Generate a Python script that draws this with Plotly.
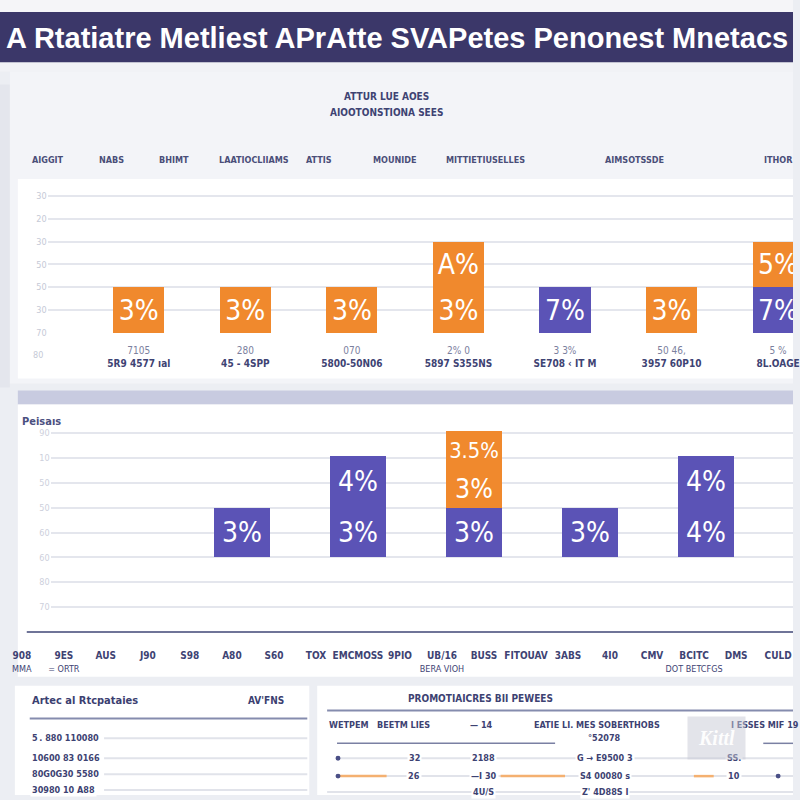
import plotly.graph_objects as go

# ---------------- data ----------------
title_text = "A Rtatiatre Metliest APrAtte SVAPetes Penonest Mnetacs"
sub_title_1 = "ATTUR LUE AOES"
sub_title_2 = "AIOOTONSTIONA SEES"
col_heads = ["AIGGIT", "NABS", "BHIMT", "LAATIOCLIIAMS", "ATTIS", "MOUNIDE",
             "MITTIETIUSELLES", "AIMSOTSSDE", "ITHOR"]
col_head_x = [48, 112, 176, 256, 322, 398, 490, 640, 785]

c1_line1 = ["7105", "280", "070", "2% 0", "3 3%", "50 46,", "5 %"]
c1_line2 = ["5R9 4577 ıal", "45 - 4SPP", "5800-50N06", "5897 S355NS",
            "SE708 ‹ IT M", "3957 60P10", "8L.OAGE"]
c1_bottom_vals = [2, 2, 2, 2, 2, 2, 2]
c1_bottom_kind = ["o", "o", "o", "o", "p", "o", "p"]
c1_bottom_text = ["3%", "3%", "3%", "3%", "7%", "3%", "7%"]
c1_top_vals = [None, None, None, 2, None, None, 2]
c1_top_text = ["", "", "", "A%", "", "", "5%"]
c1_ytick_vals = [0, 1, 2, 3, 4, 5, 6]
c1_ytick_text = ["70", "30", "50", "50", "30", "20", "30"]

c2_title = "Peisaıs"
c2_cats = ["B1", "B2", "B3", "B4", "B5"]
c2_bottom_vals = [2, 2, 2, 2, 2]
c2_bottom_text = ["3%", "3%", "3%", "3%", "4%"]
c2_mid_vals = [None, 2.1, 1.5, None, 2.1]
c2_mid_kind = ["p", "p", "o", "p", "p"]
c2_mid_text = ["", "4%", "3%", "", "4%"]
c2_top_vals = [None, None, 1.6, None, None]
c2_top_text = ["", "", "3.5%", "", ""]
c2_ytick_vals = [-2, -1, 0, 1, 2, 3, 4, 5]
c2_ytick_text = ["70", "80", "60", "60", "50", "50", "10", "90"]
c2_axis_line1 = ["908", "9ES", "AUS", "J90", "S98", "A80", "S60", "TOX", "EMCMOSS",
                 "9PIO", "UB/16", "BUSS", "FITOUAV", "3ABS", "4I0", "CMV", "BCITC",
                 "DMS", "CULD"]
c2_axis_line2 = ["MMA", "= ORTR", "", "", "", "", "", "", "", "", "BERA VIOH",
                 "", "", "", "", "", "DOT BETCFGS", "", ""]

left_title = "Artec al Rtcpataies"
left_title_right = "AV'FNS"
left_rows = ["5\u2009. 880 110080", "10600 83 0166", "80G0G30 5580", "30980 10 A88"]
right_title = "PROMOTIAICRES BII PEWEES"
right_heads = ["WETPEM   BEETM LIES", "— 14", "EATIE LI. MES SOBERTHOBS", "I ESSES MIF 19"]
right_row1 = ["32", "2188", "G → E9500 3", "SS."]
right_row2 = ["26", "—I 30", "S4 00080 s", "10"]
right_row3 = ["", "4U/S", "Z' 4D88S I", ""]

ORANGE = "#f0892d"
PURPLE = "#5b53b6"
NAVY = "#3b3769"
TXT = "#3e4373"
col = {"o": ORANGE, "p": PURPLE}


def X(px):
    return px / 800.0


def Y(px):
    return 1 - px / 800.0


NARROW = "Liberation Sans Narrow, DejaVu Sans Condensed, Roboto Condensed, Roboto, sans-serif"
BAR_FONT = dict(family=NARROW, size=28, color="white")
SMALL = NARROW

fig = go.Figure()

# chart 1
fig.add_trace(go.Bar(
    x=c1_line2, y=c1_bottom_vals, marker=dict(color=[col[k] for k in c1_bottom_kind], line=dict(width=0)),
    text=c1_bottom_text, textposition="inside", insidetextanchor="middle", textangle=0,
    textfont=BAR_FONT, xaxis="x", yaxis="y", showlegend=False, hoverinfo="skip"))
fig.add_trace(go.Bar(
    x=c1_line2, y=c1_top_vals, marker=dict(color=ORANGE, line=dict(width=0)),
    text=c1_top_text, textposition="inside", insidetextanchor="middle", textangle=0,
    textfont=BAR_FONT, xaxis="x", yaxis="y", showlegend=False, hoverinfo="skip"))

# chart 2
fig.add_trace(go.Bar(
    x=c2_cats, y=c2_bottom_vals, marker=dict(color=PURPLE, line=dict(width=0)),
    text=c2_bottom_text, textposition="inside", insidetextanchor="middle", textangle=0,
    textfont=BAR_FONT, xaxis="x2", yaxis="y2", showlegend=False, hoverinfo="skip"))
fig.add_trace(go.Bar(
    x=c2_cats, y=c2_mid_vals, marker=dict(color=[col[k] for k in c2_mid_kind], line=dict(width=0)),
    text=c2_mid_text, textposition="inside", insidetextanchor="middle", textangle=0,
    textfont=BAR_FONT, xaxis="x2", yaxis="y2", showlegend=False, hoverinfo="skip"))
fig.add_trace(go.Bar(
    x=c2_cats, y=c2_top_vals, marker=dict(color=ORANGE, line=dict(width=0)),
    text=c2_top_text, textposition="inside", insidetextanchor="middle", textangle=0,
    textfont=BAR_FONT, xaxis="x2", yaxis="y2", showlegend=False, hoverinfo="skip"))

# dummy trace to carry chart-2 category labels
fig.add_trace(go.Scatter(
    x=c2_axis_line1, y=[0] * len(c2_axis_line1), mode="markers", marker=dict(opacity=0),
    xaxis="x3", yaxis="y3", showlegend=False, hoverinfo="skip"))

c1_ticktext = [f"<span style='color:#7b809e'>{a}</span><br><b>{b}</b>" for a, b in zip(c1_line1, c1_line2)]
c2_ticktext = [f"<b>{a}</b><br><span style='font-size:9px'>{b if b else ' '}</span>"
               for a, b in zip(c2_axis_line1, c2_axis_line2)]

shapes = []


def rect(x0, y0, x1, y1, color, line=None):
    shapes.append(dict(type="rect", xref="paper", yref="paper", x0=X(x0), x1=X(x1), y0=Y(y1), y1=Y(y0),
                       fillcolor=color, line=dict(width=0) if line is None else line, layer="below"))


def hline(x0, x1, y, color, w=1):
    shapes.append(dict(type="line", xref="paper", yref="paper", x0=X(x0), x1=X(x1), y0=Y(y), y1=Y(y),
                       line=dict(color=color, width=w), layer="below"))


# backgrounds
rect(0, 0, 800, 800, "#eceef3")
rect(0, 0, 800, 12, "#f5f5f8")
rect(0, 12, 800, 63, NAVY)
rect(0, 63, 800, 72, "#f1f2f6")
rect(0, 85, 10, 390, "#e4e6ed")
rect(10, 72, 800, 386, "#f3f4f8")
rect(18, 180, 800, 381, "#ffffff")
rect(18, 393, 800, 407, "#c8cbe0")
rect(18, 407, 800, 681, "#ffffff")
rect(15, 690, 312, 800, "#ffffff")
rect(320, 690, 800, 800, "#ffffff")

# chart 2 baseline
hline(27, 800, 636, "#6f7498", 2)

# bottom left table
hline(30, 310, 723, "#858cae", 2)
left_row_y = [743, 763, 779, 795]
for yy in left_row_y:
    hline(105, 310, yy, "#e1e3ea", 2)

# bottom right table
hline(330, 800, 715, "#858cae", 2)
hline(340, 560, 748, "#7a80a3", 1.5)
hline(770, 800, 748, "#7a80a3", 1.5)
hline(340, 800, 763, "#e1e3ea", 2)
hline(340, 800, 781, "#e1e3ea", 2)
hline(342, 390, 781, "#f4b070", 2.5)
hline(505, 570, 781, "#f4b070", 2.5)
hline(700, 720, 781, "#f4b070", 2.5)
hline(330, 800, 797, "#e1e3ea", 2)
for cx, cy in [(341, 763), (341, 781), (785, 781)]:
    shapes.append(dict(type="circle", xref="paper", yref="paper", x0=X(cx - 2.5), x1=X(cx + 2.5),
                       y0=Y(cy + 2.5), y1=Y(cy - 2.5), fillcolor="#4a4f86", line=dict(width=0)))

ann = []


def text(x, y, s, size=10, color=TXT, anchor="center", bold=False, family=SMALL, **kw):
    ann.append(dict(xref="paper", yref="paper", x=X(x), y=Y(y), text=f"<b>{s}</b>" if bold else s,
                    showarrow=False, xanchor=anchor, yanchor="middle",
                    font=dict(size=size, color=color, family=family), **kw))


text(400, 38, title_text, size=29, color="white", bold=True, family="Liberation Sans, Arial, sans-serif")
text(390, 97, sub_title_1, size=10, bold=True)
text(390, 113, sub_title_2, size=10, bold=True)
for h, hx in zip(col_heads, col_head_x):
    text(hx, 161, h, size=9, bold=True, color="#4a4e78")
text(38, 357, "80", size=9, color="#c5c9d6")

text(20, 424, c2_title, size=11, bold=True, color="#4b5080", anchor="left")

text(30, 705, left_title, size=11, bold=True, color="#3b4070", anchor="left")
text(268, 705, left_title_right, size=10, bold=True, color="#3b4070")
for s, yy in zip(left_rows, left_row_y):
    text(30, yy, s, size=9, bold=True, color="#3d4272", anchor="left", bgcolor="#ffffff")

text(485, 703, right_title, size=10, bold=True, color="#3d4272")
for s, xx in zip(right_heads, [330, 486, 537, 735]):
    text(xx, 730, s, size=9, bold=True, color="#3d4272", anchor="left" if xx != 486 else "center")
text(610, 743, "°52078", size=9, bold=True, color="#3d4272")
for row, yy in [(right_row1, 763), (right_row2, 781), (right_row3, 797)]:
    for s, xx in zip(row, [418, 488, 610, 740]):
        if s:
            text(xx, yy, s, size=9, bold=True, color="#3d4272", bgcolor="#ffffff")

# watermark
text(723, 743, "<i>Kittl</i>", size=20, bold=True, color="rgba(255,255,255,0.95)",
     family="Liberation Serif, serif", bgcolor="rgba(200,202,214,0.5)", borderpad=10)

fig.update_layout(
    width=800, height=800, margin=dict(l=0, r=0, t=0, b=0),
    paper_bgcolor="#eceef3", plot_bgcolor="rgba(0,0,0,0)",
    barmode="stack", bargap=0.52, showlegend=False,
    shapes=shapes, annotations=ann,
    xaxis=dict(domain=[X(48), 1], anchor="y", type="category", range=[-0.856, 6.14],
               tickvals=c1_line2, ticktext=c1_ticktext, showgrid=False, zeroline=False, showline=False,
               ticks="", ticklabelstandoff=10, tickfont=dict(size=10, color=TXT, family=SMALL)),
    yaxis=dict(domain=[Y(335), Y(186)], anchor="x", range=[0, 6.48], tickvals=c1_ytick_vals,
               ticktext=c1_ytick_text, gridcolor="#e4e6ed", gridwidth=1.5, zeroline=False, showline=False,
               tickfont=dict(size=9, color="#c5c9d6", family=SMALL)),
    xaxis2=dict(domain=[X(51), 1], anchor="y2", type="category", range=[-1.65, 4.75],
                showticklabels=False, showgrid=False, zeroline=False, showline=False),
    yaxis2=dict(domain=[Y(636), Y(430)], anchor="x2", range=[-3, 5.24], tickvals=c2_ytick_vals,
                ticktext=c2_ytick_text, gridcolor="#e4e6ed", gridwidth=1.5, zeroline=False, showline=False,
                tickfont=dict(size=9, color="#cdd0dc", family=SMALL)),
    xaxis3=dict(domain=[X(10), 1], anchor="y3", type="category", range=[-0.283, 18.354],
                tickvals=c2_axis_line1, ticktext=c2_ticktext, showgrid=False, zeroline=False, showline=False,
                ticks="", ticklabelstandoff=16, tickfont=dict(size=10, color="#3e4373", family=SMALL)),
    yaxis3=dict(domain=[Y(636), Y(430)], anchor="x3", range=[1, 2], visible=False),
)

fig.write_html("out.html", config={"displayModeBar": False},
               post_script="document.body.style.margin='0';document.body.style.overflow='hidden';")
